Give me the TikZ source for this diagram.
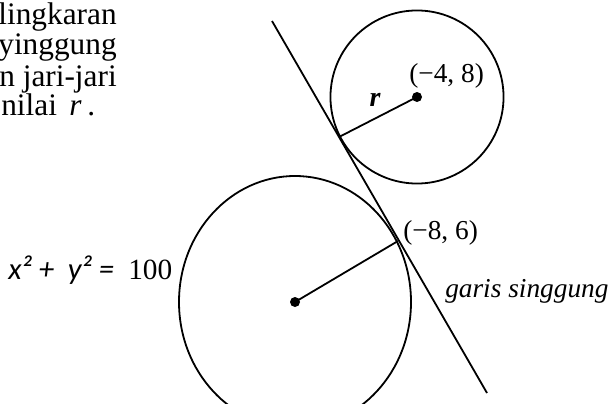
\documentclass[tikz,border=0pt]{standalone}
\usepackage{fontspec}
\setmainfont{Liberation Serif}
\newfontfamily\calib{Carlito}
\begin{document}
\begin{tikzpicture}[x=0.75pt,y=-0.75pt,
  curve/.style={line width=1.35pt,black},
  dot/.style={circle,fill=black,inner sep=0pt,minimum size=7.5pt},
  para/.style={inner sep=0pt,anchor=base east,font=\fontsize{23.5}{28}\selectfont},
  coord/.style={inner sep=0pt,anchor=west,font=\fontsize{20.5}{24}\selectfont}]
\useasboundingbox (0,0) rectangle (609,403);
% key points
\coordinate (C1) at (295,302);
\coordinate (C2) at (417,97);
\coordinate (T1) at (398,241);
\coordinate (T2) at (339,137);
\coordinate (L1) at (272,21);
\coordinate (L2) at (487,393);
% circles and tangent line
\draw[curve] (C1) ellipse [x radius=87pt, y radius=94.5pt];
\draw[curve] (C2) circle [radius=64.9pt];
\draw[curve] (L1) -- (L2);
\draw[curve] (C1) -- (T1);
\draw[curve] (C2) -- (T2);
\node[dot] (D1) at (C1) {};
\node[dot] (D2) at (C2) {};
% paragraph text (cut at the left)
\node[para] (p1) at (117,25) {lingkaran};
\node[para] (p2) at (117,55) {yinggung};
\node[para] (p3) at (117,86) {n jari-jari};
\node[para,anchor=base west] (p4) at (1,115) {nilai};
\node[para,anchor=base west] (p5) at (69,115) {\itshape r};
\node[para,anchor=base west] (p6) at (87,115) {.};
% labels
\node[coord] (lab1) at (409,76) {(−4, 8)};
\node[coord] (lab2) at (403,233) {(−8, 6)};
\node[inner sep=0pt,font=\fontsize{21}{24}\selectfont\bfseries\itshape] (rlab) at (375,100) {r};
\node[inner sep=0pt,anchor=base west,font=\fontsize{20.5}{24}\selectfont\itshape] (gs) at (445,297) {garis singgung};
\node[inner sep=0pt,anchor=base west,font=\fontsize{23}{28}\calib\itshape] (eq) at (8,279) {x² +~ y² =};
\node[inner sep=0pt,anchor=base west,font=\fontsize{22}{26}\selectfont] (hund) at (128,279) {100};
\end{tikzpicture}
\end{document}
